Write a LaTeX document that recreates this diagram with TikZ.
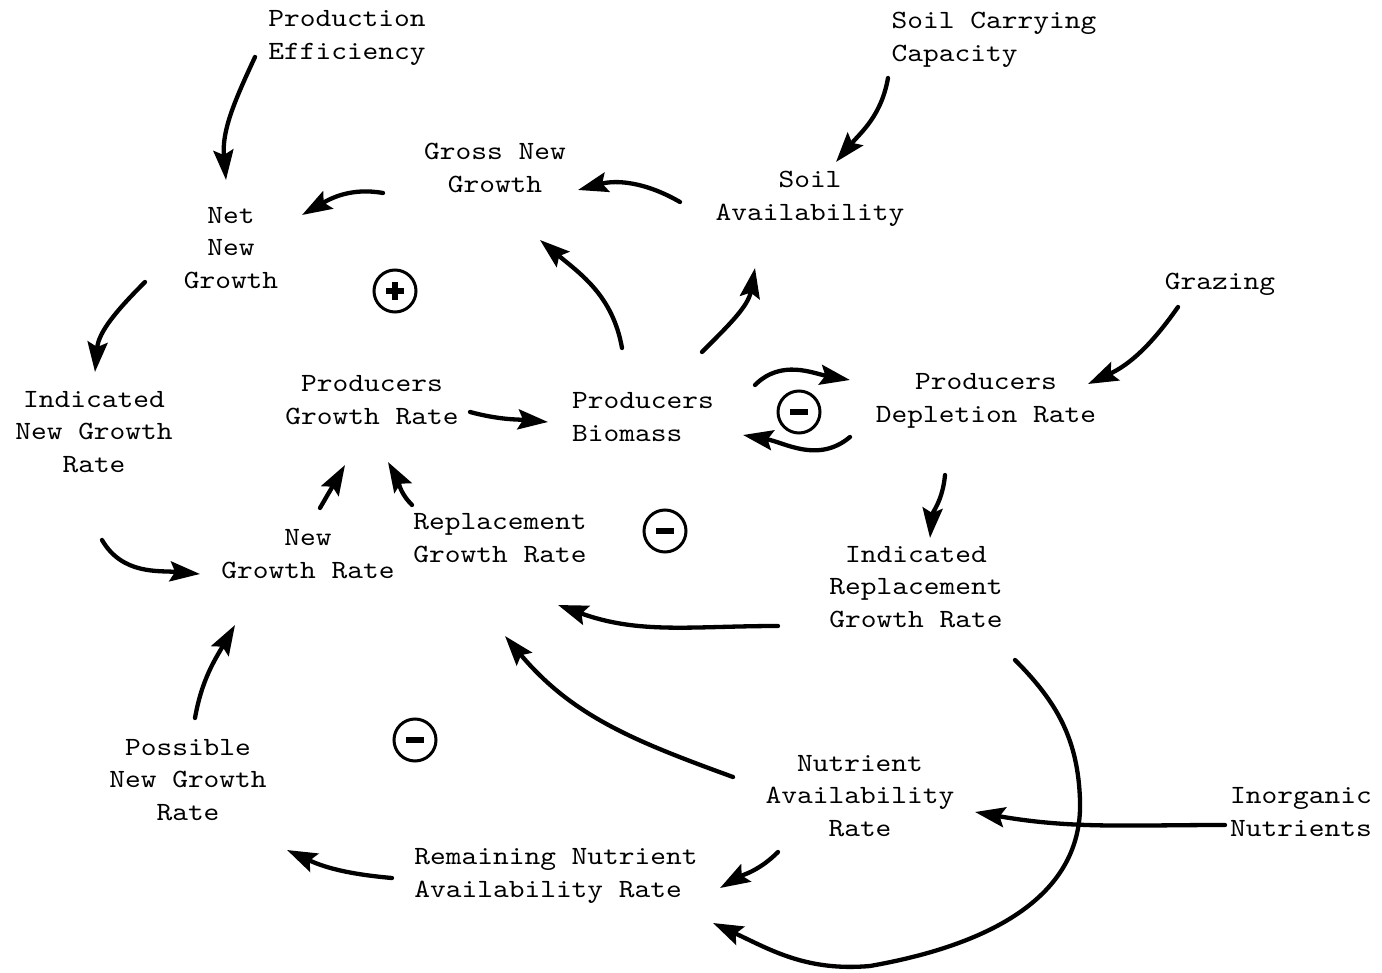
\documentclass[tikz,border=0pt]{standalone}
\usepackage{fontspec}
\setmonofont{lmmono10-regular.otf}[FakeStretch=1.14]
\usetikzlibrary{arrows.meta,calc}
\begin{document}
\begin{tikzpicture}[x=1pt,y=-1pt,
  lbl/.style={font=\ttfamily\fontsize{26.3}{32.5}\selectfont, inner sep=0pt, align=center},
  lbll/.style={lbl, align=left},
  arr/.style={line width=4.3pt, line cap=round, -{Stealth[length=30pt,width=20pt,inset=5pt]}},
  ring/.style={circle, draw, line width=3pt, minimum size=42pt, inner sep=0pt},
  sign/.style={line width=6pt}]
\fill[white] (0,0) rectangle (1382,973);
\useasboundingbox (0,0) rectangle (1382,973);

% variables
\node[lbl]  (pe)   at (347,38)  {Production\\Efficiency};
\node[lbll] (scc)  at (994,40)  {Soil Carrying\\Capacity};
\node[lbl]  (gng)  at (495,168) {Gross New\\Growth};
\node[lbl]  (sa)   at (810,199) {Soil\\Availability};
\node[lbl]  (nng)  at (231,248) {Net\\New\\Growth};
\node[lbl]  (gr)   at (1220,284) {Grazing};
\node[lbl]  (ingr) at (94,432)  {Indicated\\New Growth\\Rate};
\node[lbl]  (pgr)  at (372,400) {Producers\\Growth Rate};
\node[lbll] (pb)   at (643,417) {Producers\\Biomass};
\node[lbl]  (pdr)  at (986,401) {Producers\\Depletion Rate};
\node[lbl]  (ngr)  at (308,554) {New\\Growth Rate};
\node[lbl]  (rgr)  at (500,538) {Replacement\\Growth Rate};
\node[lbl]  (irgr) at (916,587) {Indicated\\Replacement\\Growth Rate};
\node[lbl]  (pngr) at (188,780) {Possible\\New Growth\\Rate};
\node[lbl]  (nar)  at (860,796) {Nutrient\\Availability\\Rate};
\node[lbl]  (inut) at (1301,812) {Inorganic\\Nutrients};
\node[lbll] (rnar) at (556,876) {Remaining Nutrient\\Availability Rate};

% loop polarity markers
\node[ring] (lp1) at (395,291) {};
\draw[sign] ($(lp1)+(-9,0)$) -- ($(lp1)+(9,0)$);
\draw[sign] ($(lp1)+(0,-9)$) -- ($(lp1)+(0,9)$);
\node[ring] (lm1) at (799,412) {};
\draw[sign] ($(lm1)+(-9,0)$) -- ($(lm1)+(9,0)$);
\node[ring] (lm2) at (665,531) {};
\draw[sign] ($(lm2)+(-9,0)$) -- ($(lm2)+(9,0)$);
\node[ring] (lm3) at (415,740) {};
\draw[sign] ($(lm3)+(-9,0)$) -- ($(lm3)+(9,0)$);

% links
\draw[arr] ($(pe)+(-92,19)$)   to[out=245,in=95]  ($(nng)+(-5,-68)$);
\draw[arr] ($(gng)+(-112,25)$) to[out=170,in=30]  ($(nng)+(71,-33)$);
\draw[arr] ($(sa)+(-130,3)$)   to[out=150,in=15]  ($(gng)+(83,22)$);
\draw[arr] ($(scc)+(-106,38)$) to[out=260,in=50]  ($(sa)+(26,-37)$);
\draw[arr] ($(pb)+(-21,-69)$)  to[out=100,in=-40] ($(gng)+(45,72)$);
\draw[arr] ($(pb)+(59,-65)$)   to[out=45,in=260]  ($(sa)+(-55,69)$);
\draw[arr] ($(nng)+(-86,34)$)  to[out=225,in=85]  ($(ingr)+(1,-60)$);
\draw[arr] ($(pgr)+(98,12)$)   to[out=-15,in=175] ($(pb)+(-95,5)$);
\draw[arr] ($(pb)+(112,-32)$)  to[out=45,in=170]  ($(pdr)+(-136,-21)$);
\draw[arr] ($(pdr)+(-136,36)$) to[out=220,in=-10] ($(pb)+(100,18)$);
\draw[arr] ($(gr)+(-42,23)$)   to[out=235,in=25]  ($(pdr)+(102,-17)$);
\draw[arr] ($(pdr)+(-41,74)$)  to[out=265,in=85]  ($(irgr)+(14,-49)$);
\draw[arr] ($(ingr)+(8,108)$)  to[out=-60,in=175] ($(ngr)+(-108,20)$);
\draw[arr] ($(ngr)+(12,-46)$)  to[out=60,in=240]  ($(pgr)+(-27,65)$);
\draw[arr] ($(rgr)+(-88,-33)$) to[out=135,in=-60] ($(pgr)+(16,62)$);
\draw[arr] ($(irgr)+(-138,39)$) to[out=180,in=-20] ($(rgr)+(58,67)$);
\draw[arr] ($(nar)+(-127,-19)$) to[out=160,in=-50] ($(rgr)+(5,98)$);
\draw[arr] ($(pngr)+(7,-62)$)  to[out=80,in=240]  ($(ngr)+(-73,71)$);
\draw[arr] ($(rnar)+(-164,2)$) to[out=175,in=-25] ($(pngr)+(99,70)$);
\draw[arr] ($(nar)+(-82,56)$)  to[out=225,in=30]  ($(rnar)+(164,12)$);
\draw[arr] ($(inut)+(-76,13)$) to[out=180,in=-10] ($(nar)+(115,16)$);
\draw[arr] ($(irgr)+(99,73)$) to[out=-45,in=92] (1080,800)
           to[out=-88,in=10] (870,966)
           to[out=185,in=-25] ($(rnar)+(157,47)$);
\end{tikzpicture}
\end{document}
